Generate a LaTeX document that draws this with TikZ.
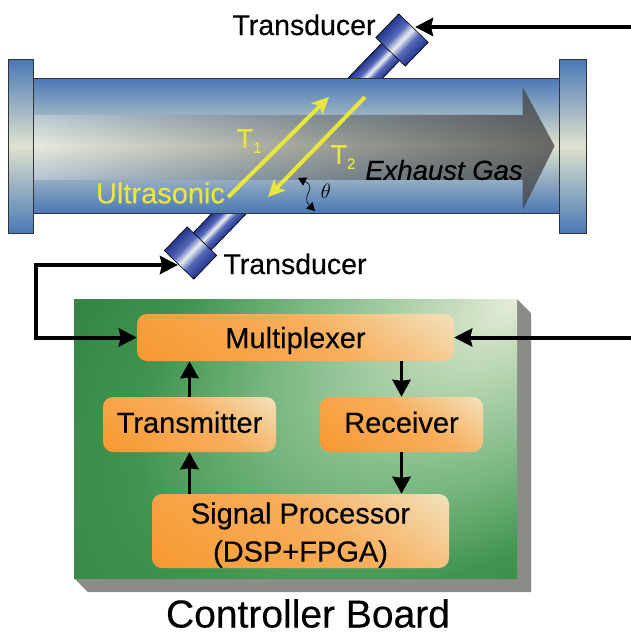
\documentclass[tikz,border=0pt]{standalone}
\usepackage{fontspec}
\setmainfont{Liberation Sans}[FakeBold=0.35]
\usetikzlibrary{arrows.meta,fadings}
\definecolor{pipeblue}{HTML}{4A78B6}
\definecolor{pipelight}{HTML}{DFE3CF}
\definecolor{capblue}{HTML}{25368E}
\definecolor{capmid}{HTML}{5568B8}
\definecolor{caplight}{HTML}{EAF0F0}
\definecolor{raycol}{HTML}{E9E63C}
\definecolor{boardshadow}{HTML}{8A8C88}
\definecolor{boarda}{HTML}{E5ECD8}
\definecolor{boardb}{HTML}{C0DAB8}
\definecolor{boardc}{HTML}{78B680}
\definecolor{boardd}{HTML}{40944F}
\definecolor{boarde}{HTML}{358645}
\definecolor{boxa}{HTML}{F79A33}
\definecolor{boxb}{HTML}{F8AE5C}
\definecolor{boxc}{HTML}{F2E2BC}
\pgfdeclareradialshading{boardglow}{\pgfpoint{0bp}{0bp}}{color(0bp)=(boarda); color(4bp)=(boardb); color(12.5bp)=(boardc); color(19bp)=(boardd); color(25bp)=(boarde); color(50bp)=(boarde)}
\pgfdeclarehorizontalshading{boxglow}{100bp}{color(0bp)=(boxa); color(18bp)=(boxa); color(55bp)=(boxb); color(85bp)=(boxc); color(100bp)=(boxc)}
\pgfdeclareverticalshading{tubeglow}{100bp}{color(0bp)=(capblue); color(25bp)=(capblue); color(40bp)=(capmid); color(50bp)=(caplight); color(60bp)=(capmid); color(75bp)=(capblue); color(100bp)=(capblue)}
\tikzfading[name=gasfade,left color=transparent!100,right color=transparent!25]
\tikzfading[name=gaswhite,left color=transparent!70,right color=transparent!100]
\tikzset{
  pipepart/.style={draw=black!80,line width=.7pt,top color=pipeblue,bottom color=pipeblue,middle color=pipelight},
  tubepart/.style={draw=black,line width=.6pt,shade,shading=tubeglow},
  boardbox/.style={rectangle,rounded corners=10pt,inner sep=0pt,shade,shading=boxglow,shading angle=55,font=\fontsize{29}{38}\selectfont,align=center},
  wire/.style={line width=4pt,-{Stealth[length=18pt,width=18pt,inset=2pt]}},
  link/.style={line width=3.5pt,-{Stealth[length=17pt,width=18pt,inset=1pt]}},
  ray/.style={draw=raycol,line width=4pt,-{Stealth[length=17pt,width=16pt,inset=4pt]}},
  raylabel/.style={text=raycol,inner sep=0pt},
  blacklabel/.style={inner sep=0pt,font=\fontsize{28.5}{30}\selectfont,text height=20pt,text depth=0pt},
}
\begin{document}
\begin{tikzpicture}[x=1pt,y=-1pt]
  \useasboundingbox (0,0) rectangle (630,635);
  \path[tubepart,transform canvas={rotate around={46:(376,67)}}] (346,54.5) rectangle (406,79.5);
  \path[tubepart,transform canvas={rotate around={46:(220,223)}}] (190,210.5) rectangle (250,235.5);
  \path[pipepart] (33,78) rectangle (559,213);
  \fill[white,path fading=gaswhite] (33,115) -- (523,115) -- (523,87) -- (555,146) -- (523,210) -- (523,180) -- (33,180) -- cycle;
  \fill[black!75,path fading=gasfade] (33,115) -- (523,115) -- (523,87) -- (555,146) -- (523,210) -- (523,180) -- (33,180) -- cycle;
  \path[pipepart] (8,59) rectangle (33,233);
  \path[pipepart] (559,59) rectangle (586,233);
  \path[tubepart,transform canvas={rotate around={46:(402,40)}}] (385.5,19.5) rectangle (418.5,60.5);
  \path[tubepart,transform canvas={rotate around={46:(190.5,253)}}] (174,232.5) rectangle (207,273.5);
  \coordinate (uppercap) at (415,27);
  \coordinate (lowercap) at (178,265);
  \fill[boardshadow] (74,578) -- (517,299) -- (531,313) -- (531,592) -- (88,592) -- cycle;
  \fill[boardshadow] (74,578) -- (517,578) -- (517,299) -- cycle;
  \fill[boarde] (74,299) rectangle (517,578);
  \begin{scope}
    \clip (74,299) rectangle (517,578);
    \path[transform canvas={rotate around={32:(517,299)}},shade,shading=boardglow] (-43,-1) rectangle (1077,599);
  \end{scope}
  \node[boardbox,minimum width=317pt,minimum height=47pt,text height=21pt,text depth=0pt] (mux) at (295.5,337.5) {Multiplexer};
  \node[boardbox,minimum width=173pt,minimum height=55pt,text height=16.5pt,text depth=0pt] (tx) at (189.5,424.5) {Transmitter};
  \node[boardbox,minimum width=163pt,minimum height=55pt,text height=16.5pt,text depth=0pt] (rx) at (401.5,424.5) {Receiver};
  \node[boardbox,minimum width=297pt,minimum height=74pt,text height=61pt,text depth=0pt] (dsp) at (300.5,531) {Signal Processor\\(DSP+FPGA)};
  \coordinate (wirex) at (36,300);
  \coordinate (wiretop) at (631,27);
  \coordinate (wireright) at (631,337.5);
  \draw[wire] (wiretop) -- (uppercap);
  \draw[wire,{Stealth[length=18pt,width=18pt,inset=2pt]}-{Stealth[length=18pt,width=18pt,inset=2pt]}] (lowercap) -| (wirex) |- (mux.west);
  \draw[wire] (wireright) -- (mux.east);
  \draw[link] (tx.north) -- (tx.north |- mux.south);
  \draw[link] (mux.south -| rx.north) -- (rx.north);
  \draw[link] (dsp.north -| tx.south) -- (tx.south);
  \draw[link] (rx.south) -- (rx.south |- dsp.north);
  \node[blacklabel] (uplabel) at (304,25) {Transducer};
  \node[blacklabel] (lowlabel) at (295,264) {Transducer};
  \node[inner sep=0pt,font=\fontsize{39}{40}\selectfont,text height=27pt,text depth=0pt] (boardlabel) at (308,614) {Controller Board};
  \node[inner sep=0pt,font=\fontsize{27.5}{30}\itshape\selectfont] (gaslabel) at (444,170) {Exhaust Gas};
  \node[raylabel,font=\fontsize{29}{30}\selectfont] (ultrasonic) at (160.5,193) {Ultrasonic};
  \coordinate (t1tip) at (329,97);
  \coordinate (t2start) at (365,97);
  \coordinate (t2tip) at (268,197);
  \draw[ray] (ultrasonic.east) ++(3,4) -- (t1tip);
  \draw[ray] (t2start) -- (t2tip);
  \node[raylabel,font=\fontsize{27}{28}\selectfont] (t1label) at (249,141) {T\raisebox{-5pt}{\fontsize{15}{16}\selectfont 1}};
  \node[raylabel,font=\fontsize{27}{28}\selectfont] (t2label) at (343,157) {T\raisebox{-5pt}{\fontsize{15}{16}\selectfont 2}};
  \node[inner sep=0pt,font=\fontsize{21}{22}\selectfont] (thetalabel) at (326,191) {$\theta$};
  \coordinate (angletop) at (298,178);
  \coordinate (anglebot) at (315,211);
  \draw[line width=.6pt,{Stealth[length=8pt,width=9pt,inset=0pt]}-{Stealth[length=8pt,width=9pt,inset=0pt]}] (angletop) .. controls (318,188) and (300,196) .. (anglebot);
\end{tikzpicture}
\end{document}
